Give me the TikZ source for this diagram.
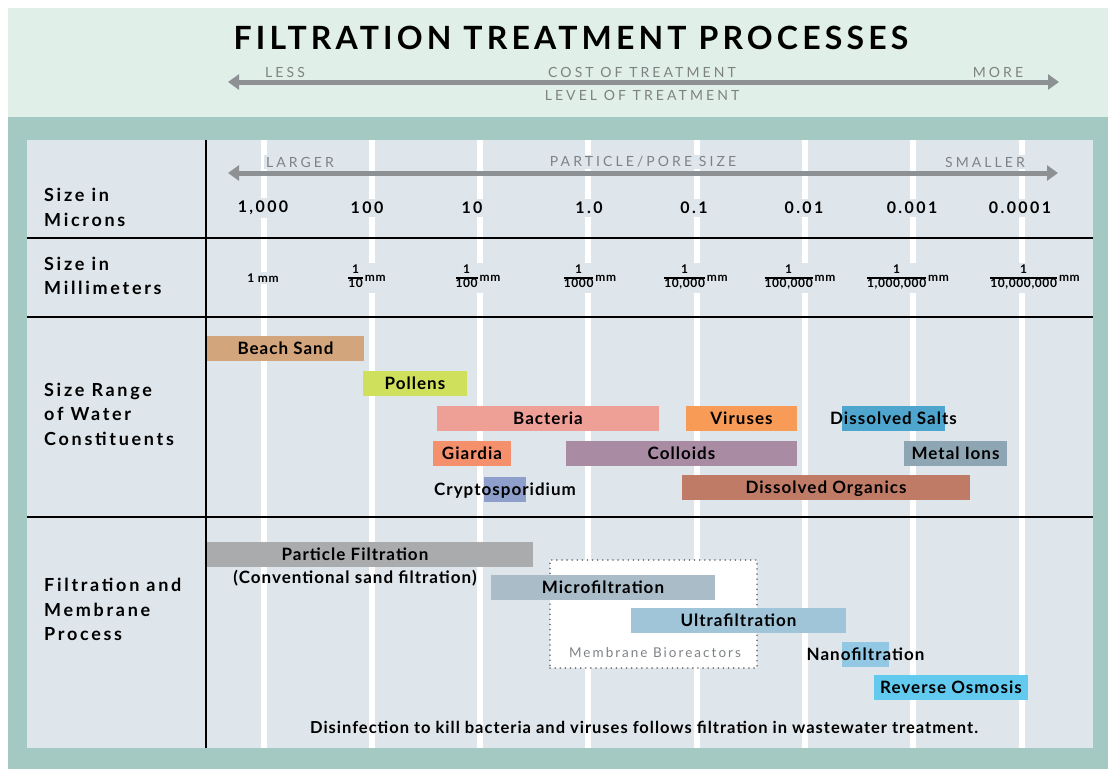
\documentclass[tikz,border=0pt]{standalone}
\usepackage{fontspec}
\setmainfont{Lato}
\newfontfamily\titlefont{Lato}[LetterSpace=13]
\newfontfamily\trackfont{Lato}[LetterSpace=22]
\newfontfamily\numfont{Lato}[LetterSpace=15]
\newfontfamily\fracfont{Lato}[LetterSpace=5]
\newfontfamily\rowfont{Lato}[LetterSpace=15]
\newfontfamily\barfont{Lato}[LetterSpace=6]
\usepackage{tikz}
\usetikzlibrary{arrows.meta}

\definecolor{headbg}{HTML}{E0EFE7}
\definecolor{framebg}{HTML}{A4C9C2}
\definecolor{panelbg}{HTML}{DEE6EB}
\definecolor{arrowgray}{HTML}{8E9194}
\definecolor{capgray}{HTML}{7F8285}
\definecolor{sandc}{HTML}{D3A57C}
\definecolor{pollenc}{HTML}{CFE05C}
\definecolor{bactc}{HTML}{EE9F96}
\definecolor{virusc}{HTML}{F79B57}
\definecolor{saltc}{HTML}{4EA6CF}
\definecolor{giardc}{HTML}{F4906C}
\definecolor{colloidc}{HTML}{A98CA4}
\definecolor{metalc}{HTML}{8EA6B3}
\definecolor{cryptc}{HTML}{8D9FCA}
\definecolor{organc}{HTML}{C07B66}
\definecolor{partc}{HTML}{A9ABAC}
\definecolor{microc}{HTML}{A9BCC8}
\definecolor{ultrac}{HTML}{A0C4D8}
\definecolor{nanoc}{HTML}{93C8E4}
\definecolor{roc}{HTML}{62C9EF}

\newcommand{\mmfrac}[1]{{\setlength{\arrayrulewidth}{1.2pt}%
  \begin{tabular}{@{}c@{}}1\\\hline #1\end{tabular}}\,mm}

\begin{document}
\begin{tikzpicture}
  [x=1pt,y=-1pt,every node/.style={inner sep=0pt},
   bar/.style={minimum height=25pt,inner sep=0pt},
   barlbl/.style={font=\barfont\fontsize{17}{19}\selectfont\bfseries,text height=12pt,text depth=0pt},
   rowlbl/.style={font=\rowfont\fontsize{18}{24.5}\selectfont\bfseries,align=left,anchor=west},
   headlbl/.style={font=\trackfont\fontsize{14}{16}\selectfont,text=capgray},
   caplbl/.style={headlbl,fill=panelbg,inner sep=2pt},
   micron/.style={font=\numfont\fontsize{16}{18}\selectfont\bfseries,fill=panelbg,inner sep=3pt},
   mmlbl/.style={font=\fracfont\fontsize{12}{12}\selectfont\bfseries,fill=panelbg,inner sep=2pt},
   scalearrow/.style={draw=arrowgray,line width=5pt,{Triangle[length=11pt,width=15pt]}-{Triangle[length=11pt,width=15pt]}},
   rule/.style={line width=2pt}]
  \useasboundingbox (0,0) rectangle (1108,769);
  \fill[white] (0,0) rectangle (1108,769);
  \fill[headbg] (8,8) rectangle (1108,117);
  \fill[framebg] (8,117) rectangle (1108,769);
  \fill[panelbg] (27,140) rectangle (1093,748);
  \foreach \x in {264,372,480,588,697,805,913,1022}
    \fill[white] (\x-3,140) rectangle (\x+3,748);

  % title and treatment scale
  \node[font=\titlefont\fontsize{32}{34}\selectfont\bfseries] (title) at (571,38) {FILTRATION TREATMENT PROCESSES};
  \coordinate (costL) at (228,82);
  \coordinate (costR) at (1059,82);
  \draw[scalearrow] (costL) -- (costR);
  \node[headlbl] (less) at (285,72) {LESS};
  \node[headlbl] (cost) at (642,72) {COST OF TREATMENT};
  \node[headlbl] (more) at (998,72) {MORE};
  \node[headlbl] (level) at (642,95) {LEVEL OF TREATMENT};

  % grid rules
  \draw[rule] (206,140) -- (206,748);
  \foreach \y in {238,317,517}
    \draw[rule] (27,\y) -- (1093,\y);

  % row labels
  \node[rowlbl] (microns) at (44,207.5) {Size in\\Microns};
  \node[rowlbl] (millis) at (44,276) {Size in\\Millimeters};
  \node[rowlbl] (range) at (44,414) {Size Range\\of Water\\Constituents};
  \node[rowlbl] (process) at (44,609.5) {Filtration and\\Membrane\\Process};

  % particle size scale
  \coordinate (sizeL) at (228,173);
  \coordinate (sizeR) at (1058,173);
  \draw[scalearrow] (sizeL) -- (sizeR);
  \node[caplbl] (larger) at (300,162) {LARGER};
  \node[caplbl] (pore) at (643,162) {PARTICLE/PORE SIZE};
  \node[caplbl] (smaller) at (985,162) {SMALLER};
  \foreach \n/\x/\t in {ma/263/{1,000},mb/367/100,mc/472/10,md/589/1.0,me/694/0.1,mf/804/0.01,mg/912/0.001,mh/1020/0.0001}
    \node[micron] (\n) at (\x,208) {\t};
  \node[mmlbl] (mma) at (263,278) {1 mm};
  \foreach \n/\x/\d in {mmb/367/10,mmc/478/100,mmd/590/1000,mme/696/{10,000},mmf/800/{100,000},mmg/908/{1,000,000},mmh/1035/{10,000,000}}
    \node[mmlbl] (\n) at (\x,278) {\mmfrac{\d}};

  % constituents
  \foreach \n/\cx/\cy/\w/\c/\t in {sand/285.5/348.5/157/sandc/Beach Sand,
      pollen/415/383.5/104/pollenc/Pollens,
      bact/548/418.5/222/bactc/Bacteria,
      virus/741.5/418.5/111/virusc/Viruses,
      salt/893.5/418.5/103/saltc/Dissolved Salts,
      giard/472/453.5/78/giardc/Giardia,
      colloid/681.5/453.5/231/colloidc/Colloids,
      metal/955.5/453.5/103/metalc/Metal Ions,
      crypt/505/489.5/42/cryptc/Cryptosporidium,
      organ/826/487.5/288/organc/Dissolved Organics}
  {
    \node[bar,fill=\c,minimum width=\w pt] (\n) at (\cx,\cy) {};
    \node[barlbl] (\n-lbl) at (\n) {\t};
  }

  % filtration processes
  \node[draw=capgray!90!black,fill=white,line width=1.6pt,dash pattern=on 0.1pt off 5pt,line cap=round,
        minimum width=207pt,minimum height=108pt] (mbr) at (653.5,614) {};
  \node[font=\numfont\fontsize{13.5}{15}\selectfont,text=capgray] (mbr-lbl) at (655,653) {Membrane Bioreactors};
  \node[bar,fill=partc,minimum width=326pt] (part) at (370,554.5) {};
  \node[barlbl] (part-lbl) at (355,554.5) {Particle Filtration};
  \node[barlbl] (part-sub) at (355,577) {(Conventional sand filtration)};
  \foreach \n/\cx/\cy/\w/\c/\t in {micro/603/587.5/224/microc/Microfiltration,
      ultra/738.5/620.5/215/ultrac/Ultrafiltration,
      nano/865.5/654/47/nanoc/Nanofiltration,
      ro/951/687/154/roc/Reverse Osmosis}
  {
    \node[bar,fill=\c,minimum width=\w pt] (\n) at (\cx,\cy) {};
    \node[barlbl] (\n-lbl) at (\n) {\t};
  }
  \node[barlbl,font=\barfont\fontsize{16.5}{18}\selectfont\bfseries] (disinf) at (644,727) {Disinfection to kill bacteria and viruses follows filtration in wastewater treatment.};
\end{tikzpicture}
\end{document}
